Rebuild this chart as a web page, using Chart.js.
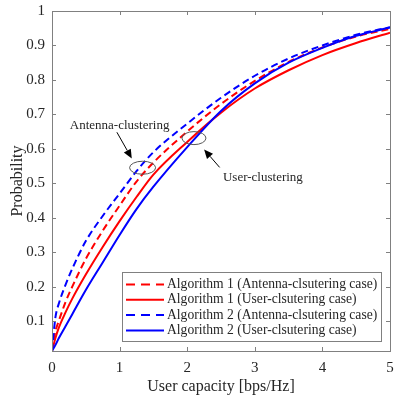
<!DOCTYPE html>
<html>
<head>
<meta charset="utf-8">
<script src="https://cdn.jsdelivr.net/npm/chart.js@4.4.1/dist/chart.umd.min.js"></script>
<style>
html, body { margin: 0; padding: 0; background: #fff; }
canvas { display: block; }
</style>
</head>
<body>
<canvas id="cdf" width="395" height="399"></canvas>
<script>
// user capacity [bps/Hz] and CDF values
const capacity = [0, 0.05, 0.1, 0.2, 0.3, 0.5, 0.75, 1, 1.25, 1.5, 2, 2.5, 3, 3.5, 4, 4.5, 5];
const alg1Antenna = [0.013, 0.07, 0.1, 0.155, 0.2, 0.28, 0.362, 0.435, 0.505, 0.56, 0.65, 0.73, 0.797, 0.852, 0.894, 0.926, 0.948];
const alg1User = [0.013, 0.05, 0.08, 0.125, 0.165, 0.235, 0.315, 0.39, 0.46, 0.525, 0.62, 0.705, 0.775, 0.828, 0.872, 0.907, 0.937];
const alg2Antenna = [0.013, 0.11, 0.15, 0.205, 0.252, 0.332, 0.405, 0.47, 0.535, 0.59, 0.673, 0.748, 0.812, 0.862, 0.9, 0.931, 0.953];
const alg2User = [0.013, 0.03, 0.05, 0.085, 0.12, 0.19, 0.27, 0.35, 0.425, 0.49, 0.605, 0.71, 0.79, 0.85, 0.893, 0.928, 0.952];

const seriesNames = [
    'Algorithm 1 (Antenna-clsutering case)',
    'Algorithm 1 (User-clsutering case)',
    'Algorithm 2 (Antenna-clsutering case)',
    'Algorithm 2 (User-clsutering case)'
];
const seriesValues = [alg1Antenna, alg1User, alg2Antenna, alg2User];
const seriesColors = ['#ff0000', '#ff0000', '#0000ff', '#0000ff'];
const seriesDashed = [true, false, true, false];

const xTicks = [0, 1, 2, 3, 4, 5];
const xTickLabels = ['0', '1', '2', '3', '4', '5'];
const yTicks = [0.1, 0.2, 0.3, 0.4, 0.5, 0.6, 0.7, 0.8, 0.9, 1];
const yTickLabels = ['0.1', '0.2', '0.3', '0.4', '0.5', '0.6', '0.7', '0.8', '0.9', '1'];

const serif = '"Times New Roman", "Liberation Serif", "DejaVu Serif", serif';
const axisGray = '#808080';
const textDark = '#262626';

// annotations in data coordinates
const notes = [
    {text: 'Antenna-clustering', at: [1.0, 0.666], from: [0.96, 0.648], to: [1.18, 0.572], ellipse: [1.34, 0.545], rx: 13, ry: 6.5},
    {text: 'User-clustering', at: [3.12, 0.517], from: [2.48, 0.546], to: [2.25, 0.598], ellipse: [2.10, 0.631], rx: 12, ry: 6.5}
];

function arrow(ctx, x1, y1, x2, y2) {
    const a = Math.atan2(y2 - y1, x2 - x1);
    const len = 9, w = 4;
    ctx.beginPath();
    ctx.moveTo(x1, y1);
    ctx.lineTo(x2 - len * Math.cos(a), y2 - len * Math.sin(a));
    ctx.stroke();
    ctx.beginPath();
    ctx.moveTo(x2, y2);
    ctx.lineTo(x2 - len * Math.cos(a) + w * Math.sin(a), y2 - len * Math.sin(a) - w * Math.cos(a));
    ctx.lineTo(x2 - len * Math.cos(a) - w * Math.sin(a), y2 - len * Math.sin(a) + w * Math.cos(a));
    ctx.closePath();
    ctx.fill();
}

const matlabFrame = {
    id: 'matlabFrame',
    afterDatasetsDraw(chart) {
        const {ctx, chartArea: area, scales: {x, y}} = chart;
        ctx.save();

        // notes
        ctx.strokeStyle = '#000';
        ctx.lineWidth = 1;
        ctx.font = '13px ' + serif;
        ctx.textAlign = 'center';
        ctx.textBaseline = 'middle';
        notes.forEach(n => {
            ctx.fillStyle = textDark;
            ctx.fillText(n.text, x.getPixelForValue(n.at[0]), y.getPixelForValue(n.at[1]));
            ctx.fillStyle = '#000';
            arrow(ctx, x.getPixelForValue(n.from[0]), y.getPixelForValue(n.from[1]),
                x.getPixelForValue(n.to[0]), y.getPixelForValue(n.to[1]));
            ctx.save();
            ctx.strokeStyle = '#555';
            ctx.beginPath();
            ctx.ellipse(x.getPixelForValue(n.ellipse[0]), y.getPixelForValue(n.ellipse[1]), n.rx, n.ry, 0, 0, Math.PI * 2);
            ctx.stroke();
            ctx.restore();
        });

        // legend
        const bx = area.right - 268, by = area.bottom - 79, bw = 259, bh = 69;
        ctx.fillStyle = '#fff';
        ctx.fillRect(bx, by, bw, bh);
        ctx.strokeStyle = axisGray;
        ctx.lineWidth = 1;
        ctx.strokeRect(bx + 0.5, by + 0.5, bw, bh);
        ctx.textAlign = 'left';
        ctx.font = '13.6px ' + serif;
        seriesNames.forEach((name, i) => {
            const ry = by + 12.5 + i * 15.3;
            ctx.strokeStyle = seriesColors[i];
            ctx.lineWidth = 2;
            ctx.setLineDash(seriesDashed[i] ? [9, 6] : []);
            ctx.beginPath();
            ctx.moveTo(bx + 4, ry);
            ctx.lineTo(bx + 42, ry);
            ctx.stroke();
            ctx.setLineDash([]);
            ctx.fillStyle = textDark;
            ctx.fillText(name, bx + 45, ry);
        });

        // box and inward ticks
        ctx.strokeStyle = axisGray;
        ctx.lineWidth = 1;
        ctx.strokeRect(Math.round(area.left) + 0.5, Math.round(area.top) + 0.5,
            Math.round(area.right - area.left), Math.round(area.bottom - area.top));
        ctx.beginPath();
        xTicks.forEach(v => {
            const px = Math.round(x.getPixelForValue(v)) + 0.5;
            ctx.moveTo(px, area.bottom); ctx.lineTo(px, area.bottom - 4);
            ctx.moveTo(px, area.top); ctx.lineTo(px, area.top + 4);
        });
        yTicks.forEach(v => {
            const py = Math.round(y.getPixelForValue(v)) + 0.5;
            ctx.moveTo(area.left, py); ctx.lineTo(area.left + 4, py);
            ctx.moveTo(area.right, py); ctx.lineTo(area.right - 4, py);
        });
        ctx.stroke();
        ctx.restore();
    }
};

const datasets = seriesValues.map((vals, i) => ({
    label: seriesNames[i],
    data: capacity.map((c, j) => ({x: c, y: vals[j]})),
    borderColor: seriesColors[i],
    borderWidth: 2,
    borderDash: seriesDashed[i] ? [7, 4] : [],
    pointRadius: 0,
    cubicInterpolationMode: 'monotone',
    fill: false,
    order: 3 - i
}));

new Chart(document.getElementById('cdf').getContext('2d'), {
    type: 'line',
    data: {datasets},
    options: {
        responsive: false,
        animation: false,
        layout: {padding: {top: 11, right: 5, left: 0, bottom: 0}},
        plugins: {
            legend: {display: false},
            tooltip: {enabled: false}
        },
        scales: {
            x: {
                type: 'linear',
                min: 0,
                max: 5,
                afterBuildTicks: s => { s.ticks = xTicks.map(v => ({value: v})); },
                afterFit: s => { s.height = 48; s.paddingLeft = 0; s.paddingRight = 0; },
                grid: {display: false, drawTicks: false},
                border: {display: false},
                ticks: {
                    padding: 8,
                    color: textDark,
                    font: {family: serif, size: 15},
                    maxRotation: 0,
                    callback: v => xTickLabels[xTicks.indexOf(v)]
                },
                title: {
                    display: true,
                    text: 'User capacity [bps/Hz]',
                    color: textDark,
                    font: {family: serif, size: 16},
                    padding: {top: 0, bottom: 3}
                }
            },
            y: {
                type: 'linear',
                min: 0.013,
                max: 1,
                afterBuildTicks: s => { s.ticks = yTicks.map(v => ({value: v})); },
                afterFit: s => { s.width = 52; s.paddingTop = 0; s.paddingBottom = 0; },
                grid: {display: false, drawTicks: false},
                border: {display: false},
                ticks: {
                    padding: 7,
                    color: textDark,
                    font: {family: serif, size: 15},
                    callback: v => yTickLabels[yTicks.indexOf(v)]
                },
                title: {
                    display: true,
                    text: 'Probability',
                    color: textDark,
                    font: {family: serif, size: 16},
                    padding: {top: 8, bottom: 0}
                }
            }
        }
    },
    plugins: [matlabFrame]
});
</script>
</body>
</html>
